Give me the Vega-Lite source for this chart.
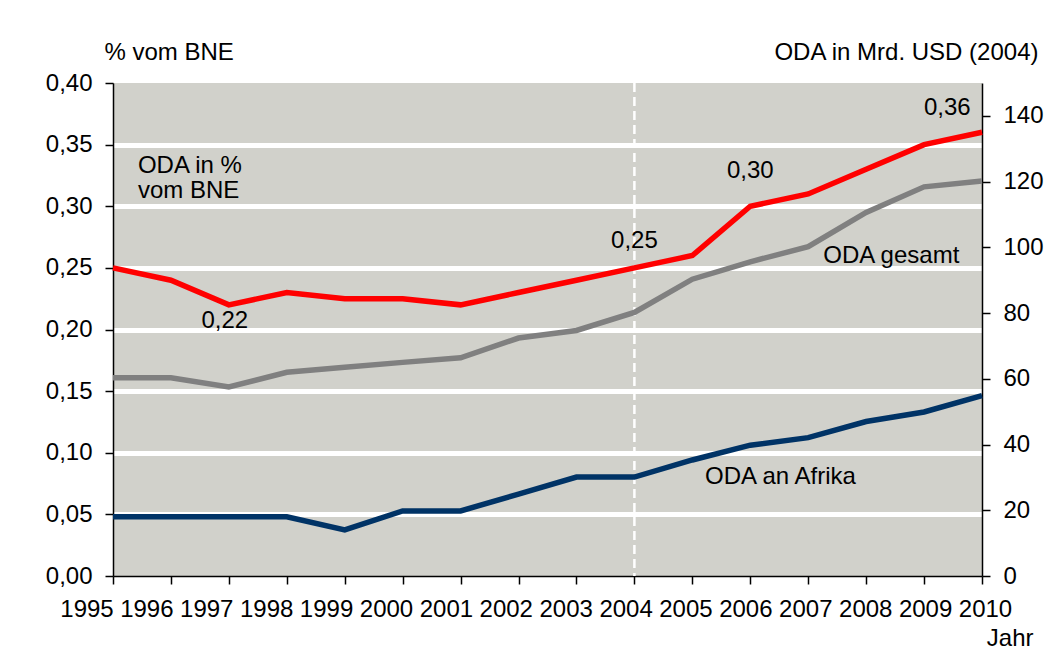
{
  "$schema": "https://vega.github.io/schema/vega-lite/v6.json",
  "width": 869,
  "height": 493,
  "autosize": "none",
  "padding": {"left": 113, "top": 83, "right": 74, "bottom": 92},
  "background": "white",
  "config": {
    "view": {"fill": "#d1d1cb", "stroke": null},
    "font": "Liberation Sans",
    "axis": {
      "labelFont": "Liberation Sans",
      "titleFont": "Liberation Sans",
      "labelFontSize": 24,
      "titleFontSize": 24,
      "labelColor": "#000000",
      "titleColor": "#000000",
      "titleFontWeight": "normal",
      "domainColor": "#000000",
      "domainWidth": 1.5,
      "tickColor": "#000000",
      "tickWidth": 1.5,
      "tickSize": 8
    }
  },
  "datasets": {
    "oda": [
      {"year": 1995, "series": "pct", "value": 0.25},
      {"year": 1996, "series": "pct", "value": 0.24},
      {"year": 1997, "series": "pct", "value": 0.22},
      {"year": 1998, "series": "pct", "value": 0.23},
      {"year": 1999, "series": "pct", "value": 0.225},
      {"year": 2000, "series": "pct", "value": 0.225},
      {"year": 2001, "series": "pct", "value": 0.22},
      {"year": 2002, "series": "pct", "value": 0.23},
      {"year": 2003, "series": "pct", "value": 0.24},
      {"year": 2004, "series": "pct", "value": 0.25},
      {"year": 2005, "series": "pct", "value": 0.26},
      {"year": 2006, "series": "pct", "value": 0.30},
      {"year": 2007, "series": "pct", "value": 0.31},
      {"year": 2008, "series": "pct", "value": 0.33},
      {"year": 2009, "series": "pct", "value": 0.35},
      {"year": 2010, "series": "pct", "value": 0.36},
      {"year": 1995, "series": "ODA gesamt", "value": 60.3},
      {"year": 1996, "series": "ODA gesamt", "value": 60.3},
      {"year": 1997, "series": "ODA gesamt", "value": 57.5},
      {"year": 1998, "series": "ODA gesamt", "value": 62.0},
      {"year": 1999, "series": "ODA gesamt", "value": 63.5},
      {"year": 2000, "series": "ODA gesamt", "value": 65.0},
      {"year": 2001, "series": "ODA gesamt", "value": 66.4},
      {"year": 2002, "series": "ODA gesamt", "value": 72.4},
      {"year": 2003, "series": "ODA gesamt", "value": 74.7},
      {"year": 2004, "series": "ODA gesamt", "value": 80.2},
      {"year": 2005, "series": "ODA gesamt", "value": 90.3},
      {"year": 2006, "series": "ODA gesamt", "value": 95.6},
      {"year": 2007, "series": "ODA gesamt", "value": 100.2},
      {"year": 2008, "series": "ODA gesamt", "value": 110.6},
      {"year": 2009, "series": "ODA gesamt", "value": 118.4},
      {"year": 2010, "series": "ODA gesamt", "value": 120.2},
      {"year": 1995, "series": "ODA an Afrika", "value": 18.0},
      {"year": 1996, "series": "ODA an Afrika", "value": 18.0},
      {"year": 1997, "series": "ODA an Afrika", "value": 18.0},
      {"year": 1998, "series": "ODA an Afrika", "value": 18.0},
      {"year": 1999, "series": "ODA an Afrika", "value": 14.0},
      {"year": 2000, "series": "ODA an Afrika", "value": 19.8},
      {"year": 2001, "series": "ODA an Afrika", "value": 19.8},
      {"year": 2002, "series": "ODA an Afrika", "value": 24.9},
      {"year": 2003, "series": "ODA an Afrika", "value": 30.1},
      {"year": 2004, "series": "ODA an Afrika", "value": 30.1},
      {"year": 2005, "series": "ODA an Afrika", "value": 35.3},
      {"year": 2006, "series": "ODA an Afrika", "value": 39.8},
      {"year": 2007, "series": "ODA an Afrika", "value": 42.1},
      {"year": 2008, "series": "ODA an Afrika", "value": 47.0},
      {"year": 2009, "series": "ODA an Afrika", "value": 49.9},
      {"year": 2010, "series": "ODA an Afrika", "value": 54.9}
    ],
    "valueNotes": [
      {"year": 1996.93, "value": 0.201, "label": "0,22"},
      {"year": 2004.0, "value": 0.266, "label": "0,25"},
      {"year": 2006.0, "value": 0.323, "label": "0,30"},
      {"year": 2009.4, "value": 0.374, "label": "0,36"}
    ],
    "seriesNotes": [
      {"year": 1995.43, "value": 0.327, "label": "ODA in %\nvom BNE"},
      {"year": 2007.26, "value": 0.2538, "label": "ODA gesamt"},
      {"year": 2005.22, "value": 0.0744, "label": "ODA an Afrika"}
    ],
    "marker": [{"year": 2004}]
  },
  "layer": [
    {
      "layer": [
        {
          "data": {"name": "marker"},
          "mark": {"type": "rule", "color": "#ffffff", "strokeWidth": 2.5, "strokeDash": [9, 5]},
          "encoding": {
            "x": {"field": "year", "type": "quantitative"}
          }
        },
        {
          "data": {"name": "oda"},
          "transform": [{"filter": "datum.series === 'pct'"}],
          "mark": {"type": "line", "color": "#ff0000", "strokeWidth": 5.5},
          "encoding": {
            "x": {
              "field": "year", "type": "quantitative",
              "scale": {"domain": [1995, 2010], "nice": false, "zero": false},
              "axis": {
                "values": [1995, 1996, 1997, 1998, 1999, 2000, 2001, 2002, 2003, 2004, 2005, 2006, 2007, 2008, 2009, 2010],
                "format": "d",
                "grid": false,
                "labelPadding": 13,
                "labelFlush": false,
                "labelOverlap": false,
                "labelOffset": {
                  "condition": [
                    {"test": "datum.value == 1995", "value": -26.5},
                    {"test": "datum.value == 1996", "value": -24.6},
                    {"test": "datum.value == 1997", "value": -22.6},
                    {"test": "datum.value == 1998", "value": -20.6},
                    {"test": "datum.value == 1999", "value": -18.7},
                    {"test": "datum.value == 2000", "value": -16.7},
                    {"test": "datum.value == 2001", "value": -14.7},
                    {"test": "datum.value == 2002", "value": -12.8},
                    {"test": "datum.value == 2003", "value": -10.8},
                    {"test": "datum.value == 2004", "value": -8.8},
                    {"test": "datum.value == 2005", "value": -6.9},
                    {"test": "datum.value == 2006", "value": -4.9},
                    {"test": "datum.value == 2007", "value": -2.9},
                    {"test": "datum.value == 2008", "value": -0.9},
                    {"test": "datum.value == 2009", "value": 1.0}
                  ],
                  "value": 3
                },
                "title": "Jahr",
                "titleAlign": "right",
                "titleBaseline": "alphabetic",
                "titleX": 920,
                "titleY": 69
              }
            },
            "y": {
              "field": "value", "type": "quantitative",
              "scale": {"domain": [0, 0.4], "nice": false, "zero": true},
              "axis": {
                "orient": "left",
                "values": [0, 0.05, 0.1, 0.15, 0.2, 0.25, 0.3, 0.35, 0.4],
                "labelExpr": "replace(format(datum.value, '.2f'), '.', ',')",
                "labelPadding": 13,
                "grid": true,
                "gridColor": "#ffffff",
                "gridWidth": 5,
                "gridOpacity": {"condition": {"test": "datum.value < 0.01 || datum.value > 0.39", "value": 0}, "value": 1},
                "title": "% vom BNE",
                "titleAngle": 0,
                "titleAlign": "left",
                "titleBaseline": "alphabetic",
                "titleX": -9,
                "titleY": -24
              }
            }
          }
        },
        {
          "data": {"name": "valueNotes"},
          "mark": {"type": "text", "align": "center", "baseline": "alphabetic", "fontSize": 24, "font": "Liberation Sans", "color": "#000000"},
          "encoding": {
            "x": {"field": "year", "type": "quantitative"},
            "y": {"field": "value", "type": "quantitative"},
            "text": {"field": "label"}
          }
        },
        {
          "data": {"name": "seriesNotes"},
          "mark": {"type": "text", "align": "left", "baseline": "alphabetic", "fontSize": 24, "lineHeight": 25, "lineBreak": "\n", "font": "Liberation Sans", "color": "#000000"},
          "encoding": {
            "x": {"field": "year", "type": "quantitative"},
            "y": {"field": "value", "type": "quantitative"},
            "text": {"field": "label"}
          }
        }
      ]
    },
    {
      "data": {"name": "oda"},
      "transform": [{"filter": "datum.series !== 'pct'"}],
      "mark": {"type": "line", "strokeWidth": 5.5},
      "encoding": {
        "x": {"field": "year", "type": "quantitative"},
        "y": {
          "field": "value", "type": "quantitative",
          "scale": {"domain": [0, 150], "nice": false, "zero": true},
          "axis": {
            "orient": "right",
            "values": [0, 20, 40, 60, 80, 100, 120, 140],
            "format": "d",
            "labelPadding": 13,
            "grid": false,
            "title": "ODA in Mrd. USD (2004)",
            "titleAngle": 0,
            "titleAlign": "right",
            "titleBaseline": "alphabetic",
            "titleX": 56,
            "titleY": -24
          }
        },
        "color": {
          "field": "series", "type": "nominal",
          "scale": {"domain": ["ODA gesamt", "ODA an Afrika"], "range": ["#808080", "#003366"]},
          "legend": null
        }
      }
    }
  ],
  "resolve": {"scale": {"y": "independent"}}
}
